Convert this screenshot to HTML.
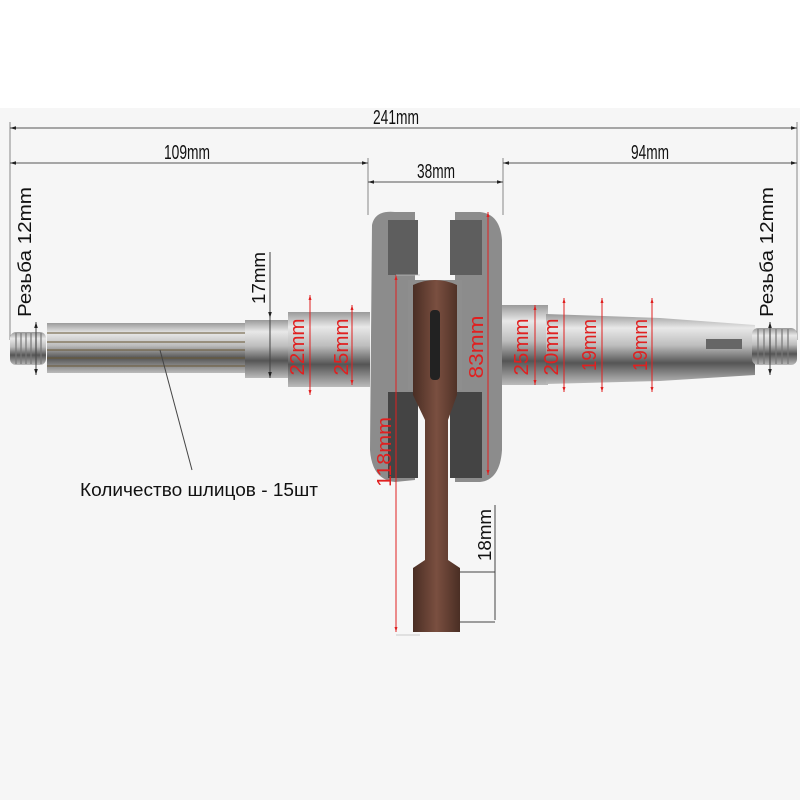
<!DOCTYPE html>
<html><head><meta charset="utf-8"><style>
html,body{margin:0;padding:0;background:#fff}
svg{display:block}
text{font-family:"Liberation Sans",sans-serif}
</style></head><body>
<svg width="800" height="800" viewBox="0 0 800 800" xmlns="http://www.w3.org/2000/svg">
<defs>
<linearGradient id="steel" x1="0" y1="0" x2="0" y2="1">
<stop offset="0" stop-color="#9a9a9a"/><stop offset="0.2" stop-color="#e8e8e8"/><stop offset="0.45" stop-color="#bdbdbd"/><stop offset="0.7" stop-color="#555"/><stop offset="1" stop-color="#bbb"/>
</linearGradient>
<linearGradient id="rod" x1="0" y1="0" x2="1" y2="0">
<stop offset="0" stop-color="#4a2e24"/><stop offset="0.5" stop-color="#7a4f40"/><stop offset="1" stop-color="#4a2e24"/>
</linearGradient>
<marker id="ab" viewBox="0 0 10 10" refX="10" refY="5" markerWidth="6" markerHeight="6" orient="auto-start-reverse"><path d="M0,2 L10,5 L0,8z" fill="#222"/></marker>
<marker id="ar" viewBox="0 0 10 10" refX="10" refY="5" markerWidth="5" markerHeight="5" orient="auto-start-reverse"><path d="M0,2 L10,5 L0,8z" fill="#e02020"/></marker>
</defs>
<rect x="0" y="108" width="800" height="692" fill="#f6f6f6"/>
<rect x="0" y="0" width="800" height="108" fill="#fff"/>

<g stroke="#888" stroke-width="1" fill="none">
<line x1="10" y1="122" x2="10" y2="340"/>
<line x1="368" y1="158" x2="368" y2="215"/>
<line x1="503" y1="158" x2="503" y2="215"/>
<line x1="797" y1="122" x2="797" y2="340"/>
</g>
<g stroke="#555" stroke-width="1">
<line x1="10" y1="128" x2="797" y2="128" marker-start="url(#ab)" marker-end="url(#ab)"/>
<line x1="10" y1="163" x2="368" y2="163" marker-start="url(#ab)" marker-end="url(#ab)"/>
<line x1="503" y1="163" x2="797" y2="163" marker-start="url(#ab)" marker-end="url(#ab)"/>
<line x1="368" y1="182" x2="503" y2="182" marker-start="url(#ab)" marker-end="url(#ab)"/>
</g>
<g font-size="20" fill="#111" text-anchor="middle">
<text x="396" y="124" textLength="46" lengthAdjust="spacingAndGlyphs">241mm</text>
<text x="187" y="159" textLength="46" lengthAdjust="spacingAndGlyphs">109mm</text>
<text x="650" y="159" textLength="38" lengthAdjust="spacingAndGlyphs">94mm</text>
<text x="436" y="178" textLength="38" lengthAdjust="spacingAndGlyphs">38mm</text>
</g>

<rect x="10" y="332" width="36" height="33" rx="6" fill="url(#steel)"/>
<g stroke="#777" stroke-width="1.2">
<line x1="16" y1="333" x2="16" y2="364"/><line x1="21" y1="333" x2="21" y2="364"/><line x1="26" y1="333" x2="26" y2="364"/><line x1="31" y1="333" x2="31" y2="364"/><line x1="36" y1="333" x2="36" y2="364"/><line x1="41" y1="333" x2="41" y2="364"/>
</g>
<rect x="47" y="323" width="210" height="50" fill="url(#steel)"/>
<g stroke="#6b5b3a" stroke-width="1.5" opacity="0.7">
<line x1="47" y1="333" x2="250" y2="333"/><line x1="47" y1="342" x2="250" y2="342"/><line x1="47" y1="350" x2="250" y2="350"/><line x1="47" y1="358" x2="250" y2="358"/><line x1="47" y1="366" x2="250" y2="366"/>
</g>
<rect x="245" y="320" width="45" height="58" fill="url(#steel)"/>
<rect x="288" y="312" width="82" height="75" fill="url(#steel)"/>

<rect x="498" y="305" width="50" height="80" fill="url(#steel)"/>
<polygon points="546,314 660,318 755,325 755,375 660,381 546,384" fill="url(#steel)"/>
<rect x="706" y="339" width="36" height="10" fill="#666"/>
<rect x="752" y="328" width="45" height="37" rx="6" fill="url(#steel)"/>
<g stroke="#777" stroke-width="1.2">
<line x1="758" y1="329" x2="758" y2="364"/><line x1="764" y1="329" x2="764" y2="364"/><line x1="770" y1="329" x2="770" y2="364"/><line x1="776" y1="329" x2="776" y2="364"/><line x1="782" y1="329" x2="782" y2="364"/><line x1="788" y1="329" x2="788" y2="364"/>
</g>

<path d="M372,225 Q375,210 395,212 L415,212 L415,480 L395,482 Q372,480 370,450 Z" fill="#8c8c8c"/>
<path d="M388,220 L418,220 L418,275 L388,275 Z" fill="#5e5e5e"/>
<path d="M388,392 L418,392 L418,478 L388,478 Z" fill="#444"/>
<path d="M455,212 L480,212 Q500,214 502,240 L502,450 Q500,480 480,482 L455,482 Z" fill="#8c8c8c"/>
<path d="M450,220 L482,220 L482,275 L450,275 Z" fill="#5e5e5e"/>
<path d="M450,392 L482,392 L482,478 L450,478 Z" fill="#444"/>
<rect x="408" y="280" width="54" height="110" fill="#8e8e8e"/>
<path d="M413,285 Q435,275 457,285 L457,395 L448,420 L448,560 L460,568 L460,632 L413,632 L413,568 L425,560 L425,420 L413,395 Z" fill="url(#rod)"/>
<rect x="430" y="310" width="10" height="70" rx="4" fill="#222"/>

<g stroke="#e02020" stroke-width="1">
<line x1="310" y1="295" x2="310" y2="395" marker-start="url(#ar)" marker-end="url(#ar)"/>
<line x1="352" y1="305" x2="352" y2="385" marker-start="url(#ar)" marker-end="url(#ar)"/>
<line x1="488" y1="212" x2="488" y2="475" marker-start="url(#ar)" marker-end="url(#ar)"/>
<line x1="535" y1="305" x2="535" y2="385" marker-start="url(#ar)" marker-end="url(#ar)"/>
<line x1="564" y1="298" x2="564" y2="392" marker-start="url(#ar)" marker-end="url(#ar)"/>
<line x1="602" y1="298" x2="602" y2="392" marker-start="url(#ar)" marker-end="url(#ar)"/>
<line x1="652" y1="298" x2="652" y2="392" marker-start="url(#ar)" marker-end="url(#ar)"/>
<line x1="396" y1="275" x2="396" y2="632" marker-start="url(#ar)" marker-end="url(#ar)"/>
</g>
<g stroke="#bbb" stroke-width="0.8"><line x1="396" y1="275" x2="420" y2="275"/><line x1="396" y1="635" x2="420" y2="635"/></g>
<g font-size="20" fill="#e02020" text-anchor="middle">
<text transform="translate(304,347) rotate(-90)" textLength="57" lengthAdjust="spacingAndGlyphs">22mm</text>
<text transform="translate(348,347) rotate(-90)" textLength="57" lengthAdjust="spacingAndGlyphs">25mm</text>
<text transform="translate(483,347) rotate(-90)" textLength="63" lengthAdjust="spacingAndGlyphs">83mm</text>
<text transform="translate(528,347) rotate(-90)" textLength="57" lengthAdjust="spacingAndGlyphs">25mm</text>
<text transform="translate(558,347) rotate(-90)" textLength="57" lengthAdjust="spacingAndGlyphs">20mm</text>
<text transform="translate(596,345) rotate(-90)" textLength="52" lengthAdjust="spacingAndGlyphs">19mm</text>
<text transform="translate(647,345) rotate(-90)" textLength="52" lengthAdjust="spacingAndGlyphs">19mm</text>
<text transform="translate(391,452) rotate(-90)" textLength="70" lengthAdjust="spacingAndGlyphs">118mm</text>
</g>

<g stroke="#444" stroke-width="1">
<line x1="36" y1="322" x2="36" y2="375" marker-start="url(#ab)" marker-end="url(#ab)"/>
<line x1="770" y1="322" x2="770" y2="375" marker-start="url(#ab)" marker-end="url(#ab)"/>
<line x1="270" y1="252" x2="270" y2="378" marker-end="url(#ab)"/>
<line x1="270" y1="312" x2="270" y2="318" marker-end="url(#ab)"/>
<line x1="495" y1="505" x2="495" y2="620"/>
<line x1="460" y1="572" x2="495" y2="572"/>
<line x1="460" y1="622" x2="495" y2="622"/>
<line x1="160" y1="350" x2="192" y2="470"/>
</g>
<g font-size="18" fill="#111" text-anchor="middle">
<text transform="translate(31,252) rotate(-90)" textLength="130" lengthAdjust="spacingAndGlyphs">Резьба 12mm</text>
<text transform="translate(773,252) rotate(-90)" textLength="130" lengthAdjust="spacingAndGlyphs">Резьба 12mm</text>
<text transform="translate(265,278) rotate(-90)" textLength="52" lengthAdjust="spacingAndGlyphs">17mm</text>
<text transform="translate(491,535) rotate(-90)" textLength="52" lengthAdjust="spacingAndGlyphs">18mm</text>
<text x="199" y="496" textLength="238" lengthAdjust="spacingAndGlyphs">Количество шлицов - 15шт</text>
</g>
</svg>
</body></html>
